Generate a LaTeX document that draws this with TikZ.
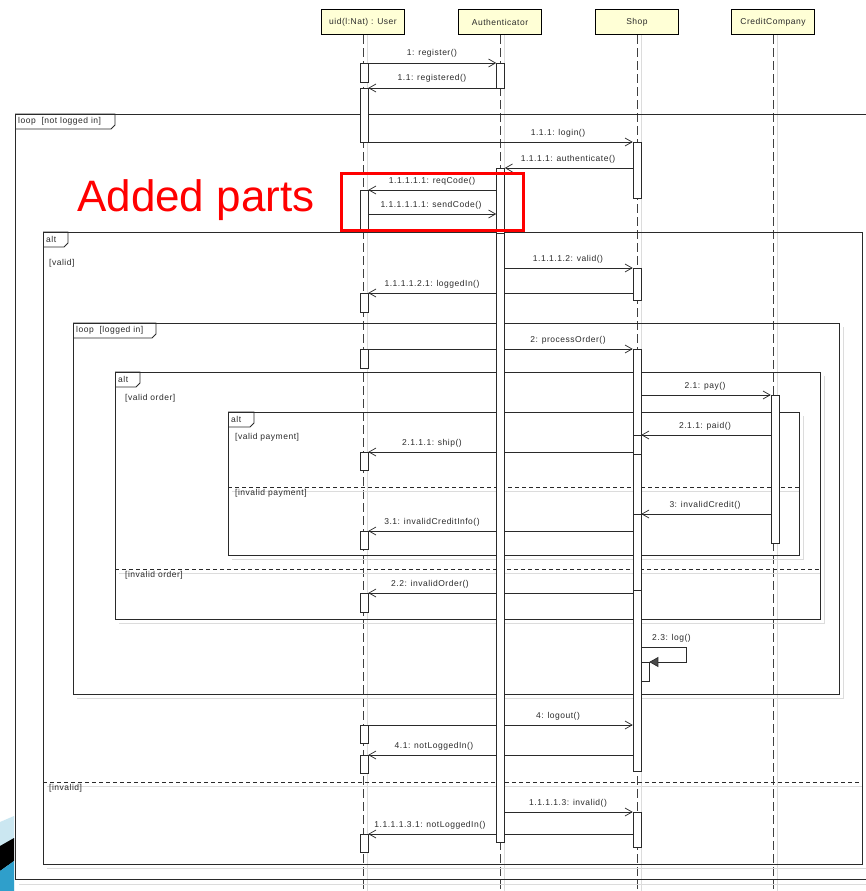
\documentclass[tikz,border=0pt]{standalone}
\usepackage{fontspec}
\setmainfont{Liberation Sans}
\newfontfamily\umlfont[LetterSpace=6]{Liberation Sans}
\newfontfamily\bigfont{Liberation Sans}
\usetikzlibrary{arrows.meta,calc}
\pgfdeclarelayer{paper}
\pgfdeclarelayer{back}
\pgfdeclarelayer{mid}
\pgfsetlayers{paper,back,mid,main}
\definecolor{ink}{HTML}{2A2A2A}
\definecolor{lifeink}{HTML}{404040}
\definecolor{shadeline}{HTML}{DCDCDC}
\definecolor{headfill}{HTML}{FFFFD6}
\definecolor{slidelight}{HTML}{CBE7F1}
\definecolor{slideblue}{HTML}{2F9FCB}
\newcommand{\actbar}[4]{%
  \pgfmathsetmacro\actbarh{#4-#3}%
  \node[actbox, minimum height=\actbarh pt] (#1) at (#2,#3) {};}
\newcommand{\fragtag}[5]{%
  \draw[frame] (#2,#3) -- ++(#4,0) -- ++(0,11) -- ++(-4,4) -- ++({4-#4},0);
  \node[tagtext] (#1) at ({#2+3},{#3+7.5}) {#5};}
\begin{document}
\begin{tikzpicture}[x=1pt,y=-1pt,
  every node/.style={font={\umlfont\fontsize{8.5}{9.5}\selectfont}, text=ink},
  head/.style={draw=black, line width=1.6pt, fill=headfill, minimum width=83pt, minimum height=25pt, inner sep=0pt},
  lifeline/.style={draw=lifeink, line width=0.8pt, dash pattern=on 9pt off 4pt},
  lifeshade/.style={draw=shadeline, line width=0.8pt},
  actbox/.style={draw=ink, line width=0.6pt, fill=white, minimum width=8pt, inner sep=0pt, anchor=north},
  msg/.style={draw=ink, line width=0.7pt, -{Straight Barb[length=7pt,width=8pt]}},
  selfmsg/.style={draw=ink, line width=0.7pt, -{Triangle[length=9pt,width=10pt,fill=ink!85]}},
  lbl/.style={anchor=base, inner sep=0pt},
  frame/.style={draw=ink, line width=0.8pt},
  fshade/.style={draw=shadeline, line width=0.8pt},
  divider/.style={draw=ink, line width=1pt, dash pattern=on 4pt off 3pt},
  tagtext/.style={anchor=west, inner sep=0pt},
  guard/.style={anchor=west, inner sep=0pt}
]
\useasboundingbox (0,0) rectangle (866,891);
\begin{pgfonlayer}{paper}
\fill[white] (0,0) rectangle (866,891);
\end{pgfonlayer}

% slide decoration, bottom left
\fill[slidelight] (0,822) -- (14,816) -- (14,891) -- (0,891) -- cycle;
\fill[black] (0,846) -- (14,838) -- (14,861) -- (0,871) -- cycle;
\fill[slideblue] (0,871) -- (14,861) -- (14,891) -- (0,891) -- cycle;

% header boxes
\node[head] (user) at (363,22) {uid(l:Nat) : User};
\node[head] (auth) at (500,22) {Authenticator};
\node[head] (shop) at (637,22) {Shop};
\node[head] (cc)   at (773,22) {CreditCompany};
\coordinate (bottom) at (0,891);

% y levels of messages
\coordinate (m1) at (0,63);
\coordinate (m2) at (0,88);
\coordinate (m3) at (0,142);
\coordinate (m4) at (0,168);
\coordinate (m5) at (0,190);
\coordinate (m6) at (0,214);
\coordinate (m7) at (0,268);
\coordinate (m8) at (0,293);
\coordinate (m9) at (0,349);
\coordinate (m10) at (0,395);
\coordinate (m11) at (0,435);
\coordinate (m12) at (0,452);
\coordinate (m13) at (0,514);
\coordinate (m14) at (0,531);
\coordinate (m15) at (0,593);
\coordinate (s1) at (0,647);
\coordinate (s2) at (0,662);
\coordinate (m16) at (0,725);
\coordinate (m17) at (0,755);
\coordinate (m18) at (0,812);
\coordinate (m19) at (0,834);

\begin{pgfonlayer}{back}
  % lifelines
  \foreach \h in {user,auth,shop,cc}{
    \draw[lifeshade] ($(\h.south)+(4,0)$) -- ($(\h.south |- bottom)+(4,0)$);
    \draw[lifeline] (\h.south) -- (\h.south |- bottom);
  }
  % frame shadows
  \draw[fshade] (19,884) -- (880,884);
  \draw[fshade] (47,868) -- (866,868) -- (866,236);
  \draw[fshade] (77,698) -- (843,698) -- (843,327);
  \draw[fshade] (119,623) -- (824,623) -- (824,376);
  \draw[fshade] (232,559) -- (803,559) -- (803,416);
  \draw[fshade] (232,491) -- (799,491);
  \draw[fshade] (119,573) -- (820,573);
  \draw[fshade] (47,786) -- (862,786);
  % frames
  \draw[frame] (880,114) -- (15,114) -- (15,879) -- (880,879);
  \draw[frame] (43,232) rectangle (862,864);
  \draw[frame] (73,323) rectangle (839,694);
  \draw[frame] (115,372) rectangle (820,619);
  \draw[frame] (228,412) rectangle (799,555);
  % dividers
  \draw[divider] (228,487) -- (799,487);
  \draw[divider] (115,569) -- (820,569);
  \draw[divider] (43,782) -- (862,782);
  % fragment tags
  \fragtag{t1}{15}{114}{100}{loop~ [not logged in]}
  \fragtag{t2}{43}{232}{25}{alt}
  \fragtag{t3}{73}{323}{83}{loop~ [logged in]}
  \fragtag{t4}{115}{372}{25}{alt}
  \fragtag{t5}{228}{412}{26}{alt}
  % guards
  \node[guard] (g1) at (49,263) {[valid]};
  \node[guard] (g2) at (125,398) {[valid order]};
  \node[guard] (g3) at (235,437) {[valid payment]};
  \node[guard] (g4) at (235,493) {[invalid payment]};
  \node[guard] (g5) at (125,575) {[invalid order]};
  \node[guard] (g6) at (49,788) {[invalid]};
\end{pgfonlayer}

% activation bars
\actbar{U1}{364}{63}{82}
\actbar{U2}{364}{88}{142}
\actbar{U3}{364}{190}{230}
\actbar{U4}{364}{293}{312}
\actbar{U5}{364}{349}{368}
\actbar{U6}{364}{452}{470}
\actbar{U7}{364}{531}{549}
\actbar{U8}{364}{593}{612}
\actbar{U9}{364}{725}{743}
\actbar{U10}{364}{755}{773}
\actbar{U11}{364}{834}{852}
\actbar{A1}{500.5}{63}{88}
\actbar{A2}{500.5}{168}{842}
\actbar{A2n}{500.5}{168}{233}
\actbar{S1}{637}{142}{198}
\actbar{S2}{637}{268}{300}
\actbar{S3}{637}{349}{771}
\actbar{S3a}{637}{435}{454}
\actbar{S3b}{637}{514}{590}
\actbar{S3c}{645}{662}{681}
\actbar{S4}{637}{812}{847}
\actbar{C1}{775}{395}{543}

\begin{pgfonlayer}{mid}
  \draw[msg] (U1.east |- m1) -- (A1.west |- m1);
  \node[lbl] (l1) at (432,56) {1: register()};
  \draw[msg] (A1.west |- m2) -- (U2.east |- m2);
  \node[lbl] (l2) at (432,81) {1.1: registered()};
  \draw[msg] (U2.east |- m3) -- (S1.west |- m3);
  \node[lbl] (l3) at (558,135) {1.1.1: login()};
  \draw[msg] (S1.west |- m4) -- (A2.east |- m4);
  \node[lbl] (l4) at (568,161) {1.1.1.1: authenticate()};
  \draw[msg] (A2.west |- m5) -- (U3.east |- m5);
  \node[lbl] (l5) at (432,183) {1.1.1.1.1: reqCode()};
  \draw[msg] (U3.east |- m6) -- (A2.west |- m6);
  \node[lbl] (l6) at (431,207) {1.1.1.1.1.1: sendCode()};
  \draw[msg] (A2.east |- m7) -- (S2.west |- m7);
  \node[lbl] (l7) at (568,261) {1.1.1.1.2: valid()};
  \draw[msg] (S2.west |- m8) -- (U4.east |- m8);
  \node[lbl] (l8) at (432,286) {1.1.1.1.2.1: loggedIn()};
  \draw[msg] (U5.east |- m9) -- (S3.west |- m9);
  \node[lbl] (l9) at (568,342) {2: processOrder()};
  \draw[msg] (S3.east |- m10) -- (C1.west |- m10);
  \node[lbl] (l10) at (705,388) {2.1: pay()};
  \draw[msg] (C1.west |- m11) -- (S3a.east |- m11);
  \node[lbl] (l11) at (705,428) {2.1.1: paid()};
  \draw[msg] (S3.west |- m12) -- (U6.east |- m12);
  \node[lbl] (l12) at (432,445) {2.1.1.1: ship()};
  \draw[msg] (C1.west |- m13) -- (S3b.east |- m13);
  \node[lbl] (l13) at (705,507) {3: invalidCredit()};
  \draw[msg] (S3.west |- m14) -- (U7.east |- m14);
  \node[lbl] (l14) at (432,524) {3.1: invalidCreditInfo()};
  \draw[msg] (S3.west |- m15) -- (U8.east |- m15);
  \node[lbl] (l15) at (430,586) {2.2: invalidOrder()};
  \draw[selfmsg] (S3.east |- s1) -- ++(45,0) -- ++(0,15) -- (S3c.east |- s2);
  \node[anchor=base west, inner sep=0pt] (lself) at (652,640) {2.3: log()};
  \draw[msg] (U9.east |- m16) -- (S3.west |- m16);
  \node[lbl] (l16) at (558,718) {4: logout()};
  \draw[msg] (S3.west |- m17) -- (U10.east |- m17);
  \node[lbl] (l17) at (434,748) {4.1: notLoggedIn()};
  \draw[msg] (A2.east |- m18) -- (S4.west |- m18);
  \node[lbl] (l18) at (568,805) {1.1.1.1.3: invalid()};
  \draw[msg] (S4.west |- m19) -- (U11.east |- m19);
  \node[lbl] (l19) at (430,827) {1.1.1.1.3.1: notLoggedIn()};
\end{pgfonlayer}

% highlight
\draw[red, line width=3pt] (341,173) rectangle (523,230);
\node[anchor=base west, inner sep=0pt, text=red, font={\bigfont\fontsize{44}{50}\selectfont}] (added) at (77,211) {Added parts};
\end{tikzpicture}
\end{document}
